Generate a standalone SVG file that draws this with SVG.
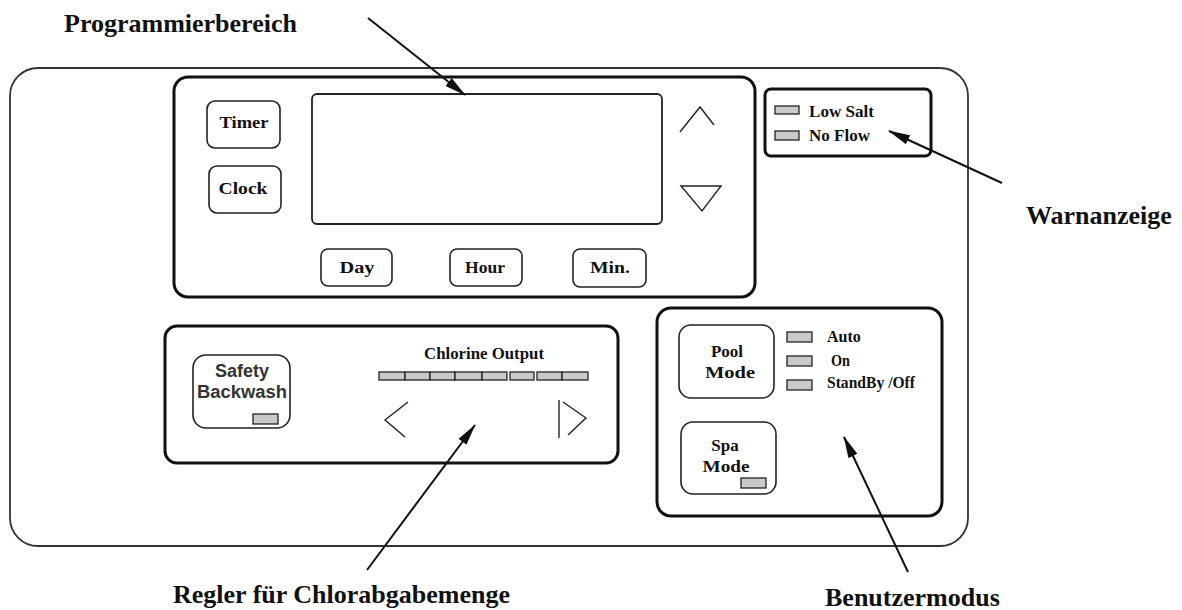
<svg xmlns="http://www.w3.org/2000/svg" width="1182" height="610" viewBox="0 0 1182 610">
  <defs>
    <marker id="head" viewBox="0 0 22 10" refX="21" refY="5" markerWidth="22" markerHeight="10" markerUnits="userSpaceOnUse" orient="auto">
      <path d="M0,0 L22,5 L0,10 z" fill="#111"/>
    </marker>
  </defs>
  <style>
    .housing { fill: none; stroke: #333; stroke-width: 1.8; }
    .panel { fill: none; stroke: #111; stroke-width: 3; }
    .screen { fill: none; stroke: #222; stroke-width: 1.8; }
    .btn { fill: none; stroke: #222; stroke-width: 1.6; }
    .led { fill: #c9c9c9; stroke: #222; stroke-width: 1.3; }
    .glyph { fill: none; stroke: #222; stroke-width: 1.4; }
    .lbl { font-family: "Liberation Serif", "Times New Roman", serif; font-weight: bold; fill: #111; }
    .key { font-size: 17px; text-anchor: middle; }
    .small { font-size: 16px; }
    .sans { font-family: "Liberation Sans", Arial, sans-serif; font-weight: bold; fill: #333; font-size: 18px; text-anchor: middle; }
    .callout { font-family: "Liberation Serif", "Times New Roman", serif; font-weight: bold; font-size: 26px; fill: #111; }
    .arrow { stroke: #111; stroke-width: 2; fill: none; marker-end: url(#head); }
  </style>

  <rect width="1182" height="610" fill="#fff"/>

  <!-- controller housing -->
  <g id="housing">
    <rect class="housing" x="10" y="68" width="958" height="478" rx="28" ry="28"/>
  </g>

  <!-- programming area: display, timer/clock keys, day/hour/min keys, up/down -->
  <g id="programming-panel">
    <rect class="panel" x="174" y="77" width="581" height="220" rx="14" ry="14"/>
    <rect class="screen" x="312" y="94" width="350" height="130" rx="5" ry="5"/>
    <g id="btn-timer">
      <rect class="btn" x="207" y="101" width="73" height="47" rx="8" ry="8"/>
      <text class="lbl key" x="244" y="128" textLength="49" lengthAdjust="spacingAndGlyphs">Timer</text>
    </g>
    <g id="btn-clock">
      <rect class="btn" x="209" y="166" width="72" height="47" rx="8" ry="8"/>
      <text class="lbl key" x="243" y="194" textLength="49" lengthAdjust="spacingAndGlyphs">Clock</text>
    </g>
    <g id="btn-day">
      <rect class="btn" x="321" y="249" width="71" height="37" rx="7" ry="7"/>
      <text class="lbl key" x="357" y="273" textLength="35" lengthAdjust="spacingAndGlyphs">Day</text>
    </g>
    <g id="btn-hour">
      <rect class="btn" x="450" y="249" width="72" height="37" rx="7" ry="7"/>
      <text class="lbl key" x="485" y="273" textLength="40" lengthAdjust="spacingAndGlyphs">Hour</text>
    </g>
    <g id="btn-min">
      <rect class="btn" x="573" y="249" width="73" height="38" rx="7" ry="7"/>
      <text class="lbl key" x="610" y="273" textLength="40" lengthAdjust="spacingAndGlyphs">Min.</text>
    </g>
    <polyline class="glyph" points="680,132 700,107 714,125"/>
    <polygon class="glyph" points="681,186 721,186 702,211" stroke-width="2"/>
  </g>

  <!-- warning lamps -->
  <g id="warning-panel">
    <rect class="panel" x="765" y="89" width="166" height="67" rx="6" ry="6" stroke-width="2.6"/>
    <rect class="led" x="775" y="106" width="24" height="8"/>
    <text class="lbl" x="809" y="117" font-size="17" textLength="65" lengthAdjust="spacingAndGlyphs">Low Salt</text>
    <rect class="led" x="775" y="131" width="24" height="9"/>
    <text class="lbl" x="809" y="141" font-size="17" textLength="61" lengthAdjust="spacingAndGlyphs">No Flow</text>
  </g>

  <!-- chlorine output regulation -->
  <g id="chlorine-panel">
    <rect class="panel" x="165" y="326" width="453" height="137" rx="12" ry="12"/>
    <g id="btn-backwash">
      <rect class="btn" x="193" y="355" width="97" height="73" rx="13" ry="13" stroke-width="1.8"/>
      <text class="sans" x="242" y="377">Safety</text>
      <text class="sans" x="242" y="398" textLength="90" lengthAdjust="spacingAndGlyphs">Backwash</text>
      <rect class="led" x="253" y="414" width="25" height="10"/>
    </g>
    <text class="lbl key" x="484" y="359" textLength="120" lengthAdjust="spacingAndGlyphs">Chlorine Output</text>
    <g id="output-bar">
      <rect class="led" x="379" y="372" width="26" height="8"/>
      <rect class="led" x="405" y="372" width="25" height="8"/>
      <rect class="led" x="430" y="372" width="25" height="8"/>
      <rect class="led" x="455" y="372" width="27" height="8"/>
      <rect class="led" x="482" y="372" width="25" height="8"/>
      <rect class="led" x="510" y="372" width="24" height="8"/>
      <rect class="led" x="537" y="372" width="25" height="8"/>
      <rect class="led" x="562" y="372" width="26" height="8"/>
    </g>
    <polyline class="glyph" points="408,402 385,420 405,437"/>
    <line class="glyph" x1="559" y1="400" x2="559" y2="438" stroke-width="1.8"/>
    <polyline class="glyph" points="563,402 586,418 568,435"/>
  </g>

  <!-- operating mode selection -->
  <g id="mode-panel">
    <rect class="panel" x="657" y="308" width="285" height="208" rx="14" ry="14"/>
    <g id="btn-pool">
      <rect class="btn" x="679" y="325" width="95" height="73" rx="12" ry="12"/>
      <text class="lbl key" x="727" y="357" font-size="19">Pool</text>
      <text class="lbl key" x="730" y="378" font-size="19" textLength="50" lengthAdjust="spacingAndGlyphs">Mode</text>
    </g>
    <g id="btn-spa">
      <rect class="btn" x="681" y="422" width="95" height="72" rx="12" ry="12"/>
      <text class="lbl key" x="725" y="451" font-size="19">Spa</text>
      <text class="lbl key" x="726" y="472" font-size="19" textLength="47" lengthAdjust="spacingAndGlyphs">Mode</text>
      <rect class="led" x="741" y="478" width="25" height="10"/>
    </g>
    <rect class="led" x="787" y="332" width="25" height="10"/>
    <text class="lbl small" x="827" y="342">Auto</text>
    <rect class="led" x="787" y="356" width="25" height="10"/>
    <text class="lbl small" x="831" y="366" textLength="19" lengthAdjust="spacingAndGlyphs">On</text>
    <rect class="led" x="787" y="380" width="25" height="10"/>
    <text class="lbl small" x="827" y="388" textLength="88" lengthAdjust="spacingAndGlyphs">StandBy /Off</text>
  </g>

  <!-- callout labels -->
  <g id="callout-labels">
    <text class="callout" x="64" y="32">Programmierbereich</text>
    <text class="callout" x="1026" y="224">Warnanzeige</text>
    <text class="callout" x="173" y="603">Regler für Chlorabgabemenge</text>
    <text class="callout" x="825" y="606">Benutzermodus</text>
  </g>

  <!-- leader arrows -->
  <g id="connectors">
    <line class="arrow" x1="368" y1="18" x2="465" y2="95"/>
    <line class="arrow" x1="1002" y1="183" x2="889" y2="131"/>
    <line class="arrow" x1="367" y1="570" x2="475" y2="425"/>
    <line class="arrow" x1="908" y1="572" x2="844" y2="437"/>
  </g>
</svg>
